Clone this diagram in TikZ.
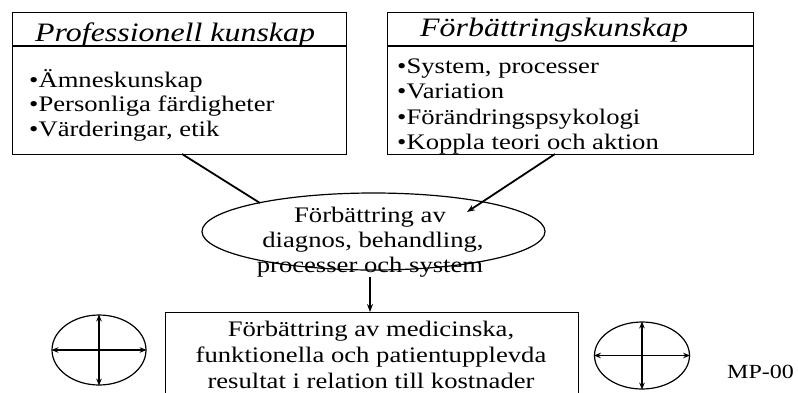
\documentclass[tikz,border=0pt]{standalone}
\usepackage{fontspec}
\setmainfont{Liberation Serif}[FakeStretch=1.2]
\usetikzlibrary{arrows.meta}
\usetikzlibrary{shapes.geometric}
\tikzset{
  boxst/.style={draw, line width=1.2pt, inner sep=0pt, fill=none},
  txt/.style={inner sep=0pt, font=\fontsize{22.2}{26}\selectfont},
  ttl/.style={inner sep=0pt, font=\fontsize{26.6}{30}\selectfont\itshape},
  conn/.style={line width=1.8pt},
  arr/.style={line width=1.8pt, -{Stealth[length=8pt,width=6pt]}},
  dbl/.style={line width=1.2pt, {Stealth[length=7pt,width=5.5pt]}-{Stealth[length=7pt,width=5.5pt]}},
  ell/.style={draw, ellipse, line width=1.2pt, inner sep=0pt}
}
\begin{document}
\begin{tikzpicture}[x=1pt,y=-1pt]
\useasboundingbox (0,0) rectangle (798,392);
\clip (0,0) rectangle (798,392);
% top boxes
\node[boxst, anchor=north west, minimum width=334pt, minimum height=142pt] (lbox) at (12,12) {};
\draw[line width=1.2pt] (lbox.north west) ++(0,34) -- ++(334,0);
\node[boxst, anchor=north west, minimum width=366pt, minimum height=142pt] (rbox) at (387,12) {};
\draw[line width=1.2pt] (rbox.north west) ++(0,34) -- ++(366,0);
\node[ttl, anchor=base west] (lt) at (35,41) {Professionell kunskap};
\node[ttl, anchor=base west] (rt) at (420,36) {Förbättringskunskap};
\node[txt, anchor=base west] (l1) at (29,87) {•Ämneskunskap};
\node[txt, anchor=base west] (l2) at (29,111.5) {•Personliga färdigheter};
\node[txt, anchor=base west] (l3) at (29,136) {•Värderingar, etik};
\node[txt, anchor=base west] (r1) at (397,73) {•System, processer};
\node[txt, anchor=base west] (r2) at (397,98.5) {•Variation};
\node[txt, anchor=base west] (r3) at (397,124) {•Förändringspsykologi};
\node[txt, anchor=base west] (r4) at (397,149) {•Koppla teori och aktion};
% central ellipse
\node[ell, minimum width=343pt, minimum height=77pt] (cell) at (373.5,231.5) {};
\node[txt, anchor=base] (e1) at (370,222) {Förbättring av};
\node[txt, anchor=base] (e2) at (373,247.5) {diagnos, behandling,};
\node[txt, anchor=base] (e3) at (370,272.5) {processer och system};
% bottom box
\node[boxst, anchor=north west, minimum width=413pt, minimum height=100pt] (bbox) at (165,312) {};
\node[txt, anchor=base] (b1) at (371,336) {Förbättring av medicinska,};
\node[txt, anchor=base] (b2) at (371,362) {funktionella och patientupplevda};
\node[txt, anchor=base] (b3) at (371,388) {resultat i relation till kostnader};
% connectors
\coordinate (ls) at (182,154);
\coordinate (le) at (260,203);
\coordinate (rs) at (555,154);
\coordinate (re) at (467,212);
\coordinate (ds) at (370,277);
\draw[conn] (ls) -- (le);
\draw[arr] (rs) -- (re);
\draw[arr] (ds) -- (bbox.north -| ds);
% small ellipses
\node[ell, minimum width=94pt, minimum height=70pt] (sl) at (99,350) {};
\draw[dbl] (sl.west) -- (sl.east);
\draw[dbl] (sl.north) -- (sl.south);
\node[ell, minimum width=95pt, minimum height=67pt] (sr) at (642,355.5) {};
\draw[dbl] (sr.west) -- (sr.east);
\draw[dbl] (sr.north) -- (sr.south);
\node[inner sep=0pt, anchor=base west, font=\fontsize{20}{24}\selectfont] (mp) at (727,378) {MP-00};
\end{tikzpicture}
\end{document}
